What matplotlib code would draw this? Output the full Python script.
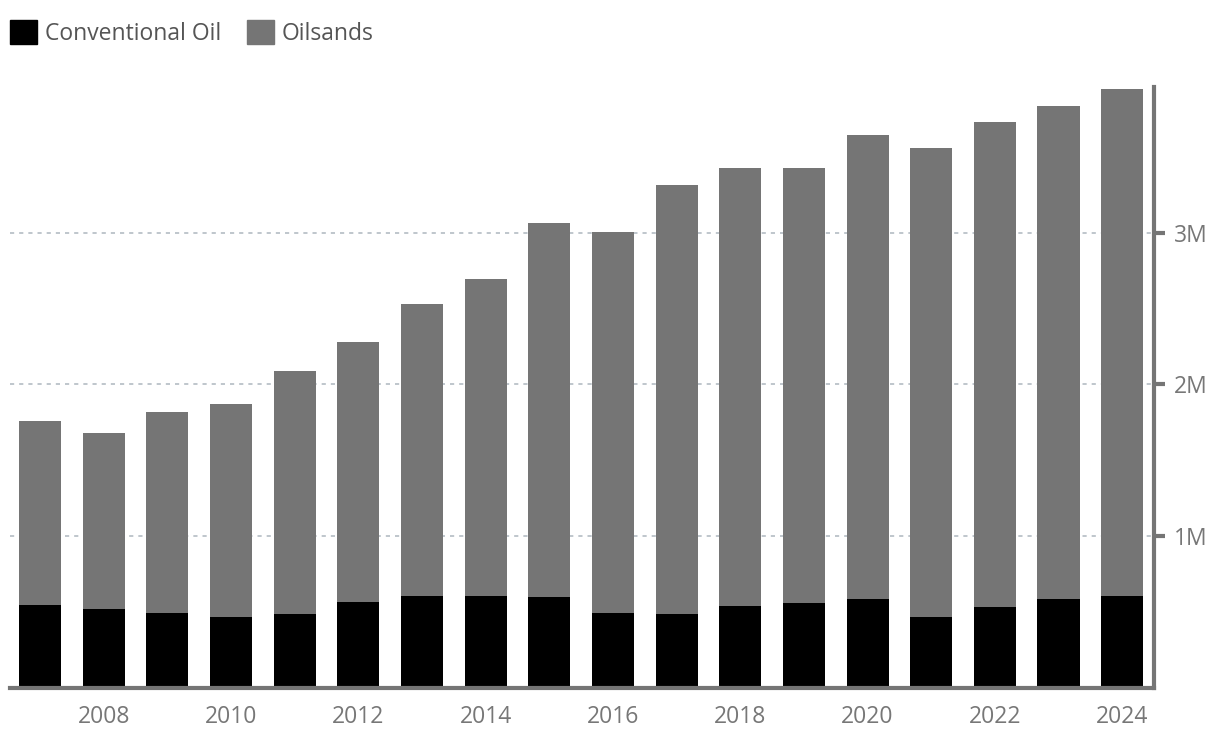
import numpy as np
import matplotlib.pyplot as plt
from matplotlib.patches import Patch
from matplotlib.ticker import FuncFormatter

# annual production, values
years = list(range(2007, 2025))
conventional = [0.546, 0.520, 0.493, 0.467, 0.487, 0.566, 0.605, 0.605, 0.599,
                0.493, 0.487, 0.539, 0.559, 0.586, 0.467, 0.533, 0.586, 0.605]
total = [1.757, 1.678, 1.816, 1.868, 2.092, 2.283, 2.533, 2.697, 3.066,
         3.007, 3.316, 3.428, 3.428, 3.645, 3.559, 3.730, 3.836, 3.946]
oilsands = [t - c for t, c in zip(total, conventional)]
yticks = [1, 2, 3]

plt.rcParams['font.family'] = ['Open Sans', 'DejaVu Sans']

fig = plt.figure(figsize=(12.2, 7.44), dpi=100)
ax = fig.add_axes([10/1220, 56/744, 1144/1220, 601/744])

x = np.arange(len(years))
ax.bar(x, conventional, width=0.66, color='#000000', zorder=2)
ax.bar(x, oilsands, width=0.66, bottom=conventional, color='#757575', zorder=2)

ax.set_xlim(-0.47, len(years) - 0.5)
ax.set_ylim(0, 3.96)

for t in yticks:
    ax.axhline(t, color='#b4bcc4', lw=1.2, ls=(0, (2.5, 3)), zorder=1)

ax.yaxis.tick_right()
ax.set_yticks(yticks)
ax.yaxis.set_major_formatter(FuncFormatter(lambda v, p: f'{int(v)}M'))
ax.tick_params(axis='y', length=8, width=3, color='#757575', pad=6,
               labelsize=16.5, labelcolor='#777777')

lab_idx = [i for i, y in enumerate(years) if y % 2 == 0]
ax.set_xticks(lab_idx)
ax.set_xticklabels([str(years[i]) for i in lab_idx])
ax.tick_params(axis='x', length=0, pad=12, labelsize=16.5, labelcolor='#777777')

for s in ['top', 'left']:
    ax.spines[s].set_visible(False)
ax.spines['bottom'].set_color('#757575')
ax.spines['bottom'].set_linewidth(3)
ax.spines['right'].set_color('#757575')
ax.spines['right'].set_linewidth(3)

handles = [Patch(color='#000000', label='Conventional Oil'),
           Patch(color='#757575', label='Oilsands')]
fig.legend(handles=handles, loc='upper left', bbox_to_anchor=(0.0003, 1 - 11/744),
           ncol=2, frameon=False, fontsize=16.5, handlelength=1.2, handleheight=1.2,
           handletextpad=0.35, columnspacing=1.1, borderaxespad=0,
           labelcolor='#555555')

fig.savefig('out.png', dpi=100)
